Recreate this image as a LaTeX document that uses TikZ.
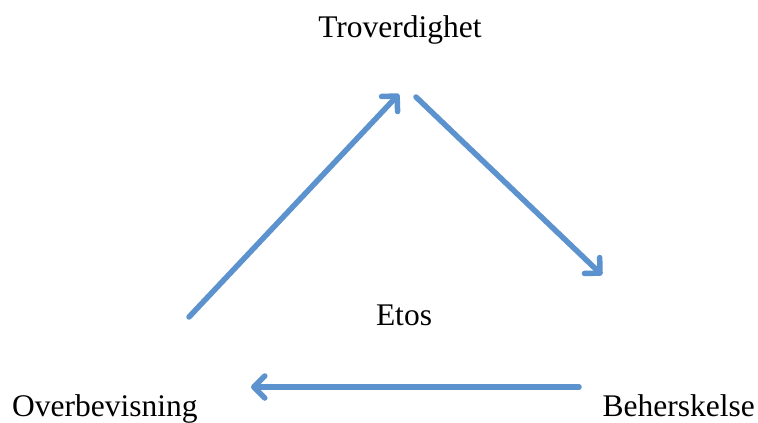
\documentclass[tikz,border=0pt]{standalone}
\usepackage{fontspec}
\setmainfont{Liberation Serif}
\usetikzlibrary{arrows.meta}
\definecolor{arrowblue}{RGB}{92,146,205}
\tikzset{
  label/.style={inner sep=0pt, font=\fontsize{31.5}{36}\selectfont},
  flow/.style={draw=arrowblue, line width=5.5pt, line cap=round,
    -{Straight Barb[length=11pt, width=22pt, line cap=round, line join=round]}}
}
\begin{document}
\begin{tikzpicture}[x=1pt, y=-1pt]
  \useasboundingbox (0,0) rectangle (758,423);
  \node[label, anchor=base] (tro) at (400,37) {Troverdighet};
  \node[label, anchor=base] (etos) at (404,325) {Etos};
  \node[label, anchor=base west] (ove) at (12,416) {Overbevisning};
  \node[label, anchor=base east] (beh) at (755,416) {Beherskelse};
  \coordinate (a1s) at (189,317);
  \coordinate (a1e) at (399,94);
  \coordinate (a2s) at (416,97);
  \coordinate (a2e) at (602,275);
  \coordinate (a3s) at (579,387);
  \coordinate (a3e) at (251,387);
  \draw[flow] (a1s) -- (a1e);
  \draw[flow] (a2s) -- (a2e);
  \draw[flow] (a3s) -- (a3e);
\end{tikzpicture}
\end{document}
